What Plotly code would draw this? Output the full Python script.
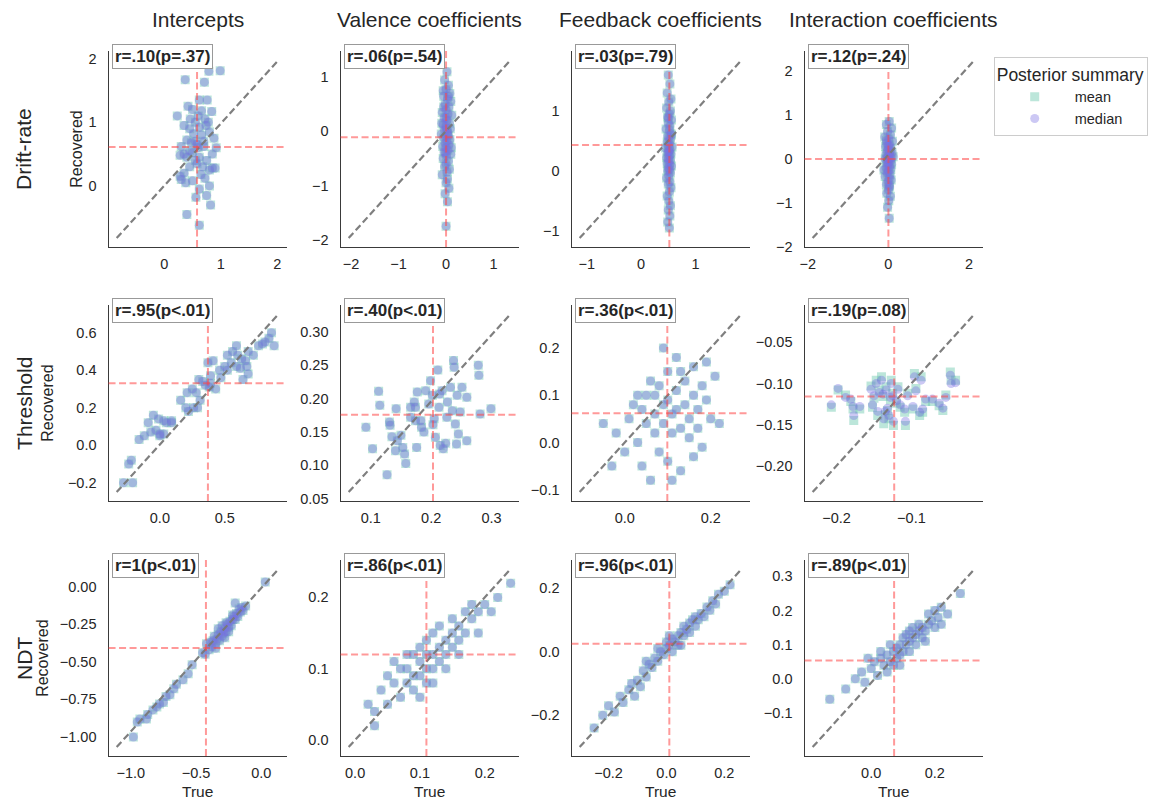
import plotly.graph_objects as go

W, H = 1156, 798      # reference picture size (layout coordinates below are in these pixels)
PAGE_H = 806          # rendered page height (the photo is taken of a slightly taller viewport)

col_titles = ["Intercepts", "Valence coefficients", "Feedback coefficients", "Interaction coefficients"]
row_titles = ["Drift-rate", "Threshold", "NDT"]

# r labels per panel (row-major)
r_labels = ["r=.10(p=.37)", "r=.06(p=.54)", "r=.03(p=.79)", "r=.12(p=.24)",
            "r=.95(p<.01)", "r=.40(p<.01)", "r=.36(p<.01)", "r=.19(p=.08)",
            "r=1(p<.01)", "r=.86(p<.01)", "r=.96(p<.01)", "r=.89(p<.01)"]

# reference diagonal line end points per panel: x (lo, hi) and y (lo, hi)
line_x = [(-0.844, 2.026), (-2.05, 1.36), (-1.13, 1.85), (-1.88, 2.14),
          (-0.333, 0.915), (0.0634, 0.3316), (-0.105, 0.272), (-0.232, -0.0155),
          (-1.108, 0.133), (-0.010, 0.240), (-0.30, 0.26), (-0.184, 0.325)]
line_y = [(-0.82, 1.98), (-1.97, 1.32), (-1.12, 1.85), (-1.80, 2.25),
          (-0.25, 0.70), (0.060, 0.327), (-0.105, 0.272), (-0.232, -0.0155),
          (-1.067, 0.117), (-0.010, 0.240), (-0.30, 0.26), (-0.20, 0.322)]

# mean of true (vertical) and recovered (horizontal) values
true_means = [0.58, 0.0, 0.52, 0.0, 0.37, 0.203, 0.099, -0.123, -0.424, 0.11, 0.01, 0.072]
rec_means = [0.61, -0.11, 0.43, 0.0, 0.33, 0.176, 0.062, -0.116, -0.409, 0.12, 0.025, 0.054]

# tick values per panel
xticks = [[0, 1, 2], [-2, -1, 0, 1], [-1, 0, 1], [-2, 0, 2],
          [0.0, 0.5], [0.1, 0.2, 0.3], [0.0, 0.2], [-0.2, -0.1],
          [-1.0, -0.5, 0.0], [0.0, 0.1, 0.2], [-0.2, 0.0, 0.2], [0.0, 0.2]]
xticktext = [["0", "1", "2"], ["−2", "−1", "0", "1"], ["−1", "0", "1"], ["−2", "0", "2"],
             ["0.0", "0.5"], ["0.1", "0.2", "0.3"], ["0.0", "0.2"], ["−0.2", "−0.1"],
             ["−1.0", "−0.5", "0.0"], ["0.0", "0.1", "0.2"], ["−0.2", "0.0", "0.2"], ["0.0", "0.2"]]
yticks = [[0, 1, 2], [-2, -1, 0, 1], [-1, 0, 1], [-2, -1, 0, 1, 2],
          [-0.2, 0.0, 0.2, 0.4, 0.6], [0.05, 0.10, 0.15, 0.20, 0.25, 0.30], [-0.1, 0.0, 0.1, 0.2],
          [-0.20, -0.15, -0.10, -0.05],
          [-1.0, -0.75, -0.5, -0.25, 0.0], [0.0, 0.1, 0.2], [-0.2, 0.0, 0.2], [-0.1, 0.0, 0.1, 0.2, 0.3]]
yticktext = [["0", "1", "2"], ["−2", "−1", "0", "1"], ["−1", "0", "1"], ["−2", "−1", "0", "1", "2"],
             ["−0.2", "0.0", "0.2", "0.4", "0.6"], ["0.05", "0.10", "0.15", "0.20", "0.25", "0.30"],
             ["−0.1", "0.0", "0.1", "0.2"], ["−0.20", "−0.15", "−0.10", "−0.05"],
             ["−1.00", "−0.75", "−0.50", "−0.25", "0.00"], ["0.0", "0.1", "0.2"], ["−0.2", "0.0", "0.2"],
             ["−0.1", "0.0", "0.1", "0.2", "0.3"]]

# (true, recovered) posterior means per panel
p11 = [(0.37,1.67),(0.79,1.80),(0.99,1.81),(0.71,1.63),(0.62,1.35),(0.76,1.35),(0.42,1.25),(0.23,1.10),
       (0.84,1.17),(0.50,1.20),(0.66,1.18),(0.72,1.05),(0.55,1.00),(0.35,0.95),(0.45,0.90),(0.62,0.92),
       (0.80,0.85),(0.88,0.75),(0.40,0.72),(0.48,0.68),(0.55,0.70),(0.30,0.62),(0.60,0.60),(0.92,0.60),
       (0.70,0.62),(0.45,0.55),(0.50,0.52),(0.35,0.50),(0.28,0.48),(0.40,0.45),(0.62,0.45),(0.75,0.40),
       (0.55,0.40),(0.68,0.30),(0.85,0.28),(0.80,0.25),(0.90,0.28),(0.45,0.30),(0.35,0.20),(0.28,0.15),
       (0.30,0.10),(0.38,0.05),(0.65,0.18),(0.72,0.12),(0.50,0.08),(0.80,0.00),(0.62,-0.05),(0.75,-0.15),
       (0.56,-0.18),(0.82,-0.30),(0.40,-0.45),(0.62,-0.62),(0.58,0.65),(0.66,0.80),(0.52,0.82),(0.78,1.00),
       (0.60,1.10),(0.70,0.70),(0.46,1.05),(0.58,0.35),(0.85,0.50),(0.74,0.95)]
p12 = [(0.02,1.10),(-0.03,0.95),(0.05,0.85),(0.00,0.78),(0.08,0.70),(-0.05,0.65),(0.03,0.60),(0.10,0.55),
       (-0.02,0.50),(0.06,0.45),(0.00,0.40),(-0.08,0.35),(0.04,0.32),(0.12,0.30),(-0.04,0.25),(0.02,0.20),
       (0.07,0.15),(-0.06,0.12),(0.00,0.10),(0.09,0.05),(-0.03,0.02),(0.03,0.00),(-0.10,-0.05),(0.05,-0.08),
       (0.00,-0.10),(-0.05,-0.12),(0.08,-0.15),(0.02,-0.18),(-0.02,-0.22),(0.06,-0.25),(-0.07,-0.28),(0.00,-0.30),
       (0.04,-0.35),(-0.04,-0.38),(0.10,-0.42),(0.01,-0.45),(-0.06,-0.50),(0.05,-0.55),(0.00,-0.60),(-0.03,-0.65),
       (0.07,-0.70),(0.02,-0.75),(-0.08,-0.80),(0.03,-0.88),(0.00,-0.95),(0.06,-1.05),(-0.02,-1.15),(0.03,-1.30),
       (0.00,-1.75),(-0.05,0.45),(0.00,0.25),(0.03,-0.05),(-0.01,-0.40),(0.05,0.65),(-0.06,0.75),(0.11,-0.30),
       (-0.09,0.15),(0.01,0.05)]
p13 = [(0.50,1.60),(0.53,1.45),(0.48,1.30),(0.55,1.20),(0.51,1.15),(0.47,1.05),(0.54,1.00),(0.52,0.95),
       (0.49,0.90),(0.56,0.85),(0.50,0.80),(0.53,0.75),(0.46,0.70),(0.52,0.68),(0.55,0.62),(0.49,0.58),
       (0.51,0.55),(0.54,0.52),(0.48,0.48),(0.52,0.45),(0.50,0.42),(0.57,0.40),(0.45,0.38),(0.53,0.35),
       (0.51,0.32),(0.49,0.30),(0.55,0.28),(0.52,0.25),(0.47,0.22),(0.50,0.20),(0.54,0.18),(0.51,0.15),
       (0.48,0.12),(0.53,0.10),(0.56,0.08),(0.50,0.05),(0.52,0.02),(0.49,0.00),(0.54,-0.03),(0.51,-0.08),
       (0.47,-0.12),(0.53,-0.18),(0.50,-0.22),(0.55,-0.28),(0.52,-0.35),(0.48,-0.42),(0.51,-0.50),(0.54,-0.58),
       (0.50,-0.65),(0.53,-0.75),(0.49,-0.85),(0.52,-0.95),(0.56,0.60),(0.50,0.88),(0.51,0.33)]
p14 = [(0.02,0.85),(-0.05,0.78),(0.08,0.70),(-0.02,0.62),(0.05,0.55),(-0.09,0.50),(0.01,0.45),(0.10,0.40),
       (-0.04,0.36),(0.03,0.32),(-0.07,0.28),(0.06,0.25),(0.00,0.22),(-0.03,0.18),(0.09,0.15),(0.02,0.12),
       (-0.06,0.10),(0.04,0.07),(-0.01,0.05),(0.07,0.02),(-0.08,0.00),(0.01,-0.02),(0.05,-0.05),(-0.04,-0.08),
       (0.00,-0.10),(0.08,-0.12),(-0.02,-0.15),(0.03,-0.18),(-0.06,-0.20),(0.06,-0.24),(0.00,-0.28),(-0.03,-0.32),
       (0.04,-0.36),(-0.08,-0.40),(0.02,-0.44),(0.07,-0.48),(-0.01,-0.52),(-0.05,-0.58),(0.03,-0.64),(0.00,-0.70),
       (-0.04,-0.78),(0.05,-0.85),(0.01,-0.95),(-0.02,-1.10),(0.02,-1.35),(0.12,0.05),(-0.11,-0.25),(0.00,0.30),
       (-0.03,0.00),(0.04,0.18),(0.02,-0.60),(-0.05,0.42)]
p21 = [(-0.28,-0.20),(-0.21,-0.20),(-0.24,-0.10),(-0.22,-0.08),(-0.16,0.03),(-0.12,0.05),(-0.09,0.12),
       (-0.05,0.16),(-0.07,0.07),(-0.03,0.08),(0.00,0.05),(0.00,0.06),(0.03,0.06),(-0.01,0.14),(0.03,0.13),
       (0.05,0.12),(0.09,0.12),(0.09,0.13),(0.16,0.24),(0.20,0.20),(0.22,0.18),(0.26,0.20),(0.29,0.20),
       (0.31,0.24),(0.21,0.28),(0.25,0.30),(0.28,0.28),(0.30,0.35),(0.33,0.34),(0.35,0.32),(0.38,0.31),
       (0.39,0.37),(0.37,0.44),(0.41,0.45),(0.39,0.33),(0.43,0.30),(0.46,0.40),(0.50,0.42),(0.52,0.48),
       (0.55,0.44),(0.52,0.40),(0.56,0.50),(0.59,0.53),(0.60,0.48),(0.63,0.46),(0.66,0.45),(0.62,0.41),
       (0.68,0.50),(0.72,0.48),(0.68,0.38),(0.76,0.53),(0.79,0.54),(0.81,0.55),(0.84,0.57),(0.86,0.60),
       (0.88,0.53),(0.59,0.42),(0.47,0.36),(0.64,0.35),(0.67,0.42)]
p22 = [(0.113,0.211),(0.092,0.157),(0.115,0.190),(0.103,0.125),(0.131,0.165),(0.132,0.160),(0.127,0.086),
       (0.135,0.143),(0.141,0.122),(0.144,0.137),(0.150,0.145),(0.153,0.127),(0.156,0.117),(0.158,0.103),
       (0.142,0.185),(0.166,0.172),(0.172,0.195),(0.174,0.187),(0.177,0.210),(0.176,0.127),(0.183,0.167),
       (0.184,0.157),(0.188,0.150),(0.191,0.212),(0.196,0.192),(0.199,0.227),(0.202,0.205),(0.205,0.170),
       (0.203,0.161),(0.207,0.142),(0.211,0.243),(0.213,0.187),(0.214,0.207),(0.218,0.212),(0.215,0.130),
       (0.220,0.125),(0.224,0.133),(0.226,0.172),(0.227,0.195),(0.232,0.217),(0.235,0.182),(0.237,0.257),
       (0.238,0.247),(0.240,0.162),(0.243,0.205),(0.242,0.132),(0.245,0.147),(0.248,0.180),(0.251,0.217),
       (0.259,0.202),(0.259,0.137),(0.278,0.250),(0.279,0.235),(0.281,0.177),(0.299,0.185),(0.174,0.167),
       (0.166,0.187)]
p23 = [(-0.05,0.04),(-0.02,0.02),(0.00,-0.02),(0.02,0.08),(0.03,0.00),(0.04,-0.05),(0.05,0.10),(0.05,0.04),
       (0.06,-0.08),(0.07,0.06),(0.07,0.02),(0.08,0.12),(0.08,-0.02),(0.09,0.08),(0.09,0.04),(0.10,0.15),
       (0.10,0.09),(0.10,-0.04),(0.11,0.06),(0.11,0.02),(0.12,0.18),(0.12,0.11),(0.12,0.07),(0.13,0.03),
       (0.13,-0.06),(0.14,0.13),(0.14,0.08),(0.15,0.05),(0.15,0.01),(0.16,0.10),(0.16,0.16),(0.17,0.07),
       (0.17,0.03),(0.18,0.12),(0.18,-0.01),(0.19,0.09),(0.20,0.05),(0.21,0.14),(0.22,0.04),(0.06,0.13),
       (0.03,0.10),(0.01,0.05),(-0.03,-0.05),(0.09,0.20),(0.13,0.15),(0.11,-0.08),(0.07,0.10),(0.04,0.07),
       (0.16,-0.03),(0.19,0.17)]
p24 = [(-0.207,-0.129),(-0.198,-0.108),(-0.188,-0.114),(-0.181,-0.122),(-0.178,-0.131),(-0.177,-0.145),
       (-0.169,-0.131),(-0.154,-0.103),(-0.152,-0.129),(-0.147,-0.096),(-0.145,-0.139),(-0.140,-0.092),
       (-0.138,-0.116),(-0.137,-0.149),(-0.134,-0.104),(-0.132,-0.133),(-0.130,-0.143),(-0.127,-0.096),
       (-0.125,-0.112),(-0.124,-0.151),(-0.120,-0.124),(-0.118,-0.104),(-0.115,-0.129),(-0.109,-0.135),
       (-0.108,-0.151),(-0.105,-0.112),(-0.098,-0.131),(-0.096,-0.088),(-0.094,-0.106),(-0.089,-0.139),
       (-0.087,-0.092),(-0.085,-0.135),(-0.081,-0.122),(-0.072,-0.122),(-0.063,-0.127),(-0.058,-0.133),
       (-0.054,-0.114),(-0.048,-0.086),(-0.047,-0.096),(-0.041,-0.096),(-0.150,-0.118),(-0.143,-0.108),
       (-0.128,-0.120),(-0.135,-0.138)]
p24_median = [(-0.207,-0.126),(-0.198,-0.106),(-0.188,-0.117),(-0.181,-0.119),(-0.178,-0.128),(-0.177,-0.139),
       (-0.169,-0.128),(-0.154,-0.107),(-0.152,-0.126),(-0.147,-0.100),(-0.145,-0.134),(-0.140,-0.096),
       (-0.138,-0.113),(-0.137,-0.143),(-0.134,-0.108),(-0.132,-0.130),(-0.130,-0.139),(-0.127,-0.100),
       (-0.125,-0.115),(-0.124,-0.146),(-0.120,-0.121),(-0.118,-0.107),(-0.115,-0.126),(-0.109,-0.131),
       (-0.108,-0.146),(-0.105,-0.115),(-0.098,-0.128),(-0.096,-0.092),(-0.094,-0.109),(-0.089,-0.135),
       (-0.087,-0.096),(-0.085,-0.131),(-0.081,-0.119),(-0.072,-0.119),(-0.063,-0.124),(-0.058,-0.130),
       (-0.054,-0.117),(-0.048,-0.090),(-0.047,-0.100),(-0.041,-0.099),(-0.150,-0.115),(-0.143,-0.111),
       (-0.128,-0.117),(-0.135,-0.134)]
p31 = [(-0.98,-1.00),(-0.95,-0.90),(-0.93,-0.88),(-0.88,-0.88),(-0.87,-0.85),(-0.83,-0.82),(-0.80,-0.80),
       (-0.78,-0.78),(-0.75,-0.77),(-0.73,-0.73),(-0.70,-0.72),(-0.67,-0.68),(-0.65,-0.65),(-0.60,-0.62),
       (-0.56,-0.58),(-0.53,-0.52),(-0.45,-0.44),(-0.43,-0.45),(-0.40,-0.42),(-0.38,-0.40),(-0.37,-0.36),
       (-0.36,-0.33),(-0.35,-0.38),(-0.34,-0.35),(-0.33,-0.32),(-0.32,-0.36),(-0.31,-0.30),(-0.30,-0.33),
       (-0.29,-0.31),(-0.28,-0.28),(-0.27,-0.30),(-0.26,-0.25),(-0.25,-0.27),(-0.24,-0.23),(-0.23,-0.26),
       (-0.22,-0.22),(-0.21,-0.20),(-0.20,-0.22),(-0.19,-0.18),(-0.18,-0.20),(-0.17,-0.15),(-0.16,-0.17),
       (-0.15,-0.14),(-0.14,-0.16),(-0.12,-0.13),(-0.20,-0.11),(-0.25,-0.30),(-0.28,-0.34),(-0.35,-0.41),
       (-0.39,-0.37),(0.03,0.03),(-0.42,-0.38),(-0.33,-0.28),(-0.30,-0.26),(-0.22,-0.19),(-0.27,-0.24)]
p32 = [(0.02,0.05),(0.03,0.04),(0.04,0.07),(0.05,0.05),(0.05,0.09),(0.06,0.08),(0.07,0.06),(0.07,0.10),
       (0.08,0.08),(0.08,0.12),(0.09,0.09),(0.09,0.07),(0.10,0.11),(0.10,0.13),(0.10,0.09),(0.11,0.12),
       (0.11,0.10),(0.11,0.14),(0.12,0.12),(0.12,0.15),(0.12,0.10),(0.13,0.13),(0.13,0.11),(0.13,0.16),
       (0.14,0.14),(0.14,0.12),(0.15,0.15),(0.15,0.13),(0.15,0.17),(0.16,0.16),(0.16,0.14),(0.17,0.15),
       (0.17,0.18),(0.18,0.17),(0.18,0.19),(0.19,0.18),(0.20,0.19),(0.21,0.18),(0.22,0.20),(0.24,0.22),
       (0.06,0.11),(0.09,0.12),(0.12,0.08),(0.14,0.10),(0.10,0.06),(0.03,0.02),(0.16,0.12),(0.19,0.15),
       (0.08,0.10),(0.11,0.08)]
p33 = [(-0.25,-0.24),(-0.22,-0.20),(-0.20,-0.17),(-0.18,-0.19),(-0.16,-0.14),(-0.15,-0.16),(-0.13,-0.12),
       (-0.12,-0.10),(-0.10,-0.09),(-0.09,-0.11),(-0.08,-0.06),(-0.07,-0.08),(-0.06,-0.04),(-0.05,-0.05),
       (-0.04,-0.02),(-0.03,-0.03),(-0.02,0.00),(-0.01,-0.01),(0.00,0.01),(0.00,0.03),(0.01,0.02),(0.02,0.00),
       (0.02,0.04),(0.03,0.03),(0.04,0.05),(0.04,0.02),(0.05,0.06),(0.06,0.05),(0.06,0.08),(0.07,0.07),
       (0.08,0.09),(0.08,0.06),(0.09,0.10),(0.10,0.08),(0.10,0.11),(0.11,0.10),(0.12,0.12),(0.13,0.11),
       (0.14,0.14),(0.15,0.13),(0.16,0.16),(0.17,0.15),(0.18,0.18),(0.20,0.19),(0.22,0.21),(-0.11,-0.14),
       (-0.03,0.01),(0.05,0.02),(0.01,0.05),(-0.07,-0.03)]
p34 = [(-0.13,-0.06),(-0.08,-0.03),(-0.05,0.00),(-0.03,0.02),(-0.02,-0.01),(0.00,0.03),(0.01,0.05),(0.02,0.01),
       (0.03,0.06),(0.04,0.04),(0.05,0.07),(0.05,0.02),(0.06,0.05),(0.07,0.08),(0.07,0.04),(0.08,0.09),
       (0.08,0.06),(0.09,0.10),(0.09,0.07),(0.10,0.08),(0.10,0.12),(0.11,0.10),(0.11,0.13),(0.12,0.11),
       (0.12,0.14),(0.13,0.12),(0.13,0.15),(0.14,0.13),(0.14,0.10),(0.15,0.14),(0.15,0.16),(0.16,0.15),
       (0.16,0.12),(0.17,0.14),(0.18,0.16),(0.18,0.19),(0.19,0.17),(0.20,0.20),(0.20,0.15),(0.21,0.18),
       (0.22,0.21),(0.22,0.16),(0.24,0.19),(0.28,0.25),(0.06,0.10),(0.03,0.08),(0.12,0.08),(-0.01,0.06),
       (0.17,0.11),(0.09,0.04)]

means = [p11, p12, p13, p14, p21, p22, p23, p24, p31, p32, p33, p34]
medians = [p11, p12, p13, p14, p21, p22, p23, p24_median, p31, p32, p33, p34]

# ---- layout geometry (reference pixels) ----
col_px = [(104, 283), (337, 516), (569, 748), (803, 982)]
row_px = [(51, 247), (305, 501), (560, 756)]
ylabel_x = [72, 42, 37]
row_title_x = 19

MEAN_COLOR = "rgba(95,196,166,0.42)"
MED_COLOR = "rgba(120,110,225,0.38)"
TXT = "#262626"
FONT = "Liberation Sans, Arial, sans-serif"
DASH = "7px,3.5px"

fig = go.Figure()
shapes = []
annotations = []


def padded(lo, hi):
    m = 0.05 * (hi - lo)
    return [lo - m, hi + m]


def py(y):
    """reference pixel row -> paper fraction"""
    return 1 - y / H


for r in range(3):
    for c in range(4):
        i = r * 4 + c
        n = i + 1
        xa = "x" if n == 1 else f"x{n}"
        ya = "y" if n == 1 else f"y{n}"
        l, rr = col_px[c]
        t, b = row_px[r]
        fig.layout[("xaxis" if n == 1 else f"xaxis{n}")] = dict(
            domain=[l / W, rr / W], anchor=ya, range=padded(*line_x[i]), showgrid=False, zeroline=False,
            showline=True, linecolor="#3a3a3a", linewidth=1.3, ticks="", tickvals=xticks[i],
            ticktext=xticktext[i], tickfont=dict(size=14.5, color=TXT, family=FONT), ticklabelstandoff=3)
        fig.layout[("yaxis" if n == 1 else f"yaxis{n}")] = dict(
            domain=[py(b), py(t)], anchor=xa, range=padded(*line_y[i]), showgrid=False, zeroline=False,
            showline=True, linecolor="#3a3a3a", linewidth=1.3, ticks="", tickvals=yticks[i],
            ticktext=yticktext[i], tickfont=dict(size=14.5, color=TXT, family=FONT), ticklabelstandoff=8)

        mx = [p[0] for p in means[i]]
        my = [p[1] for p in means[i]]
        dx = [p[0] for p in medians[i]]
        dy = [p[1] for p in medians[i]]
        fig.add_trace(go.Scatter(x=mx, y=my, mode="markers", xaxis=xa, yaxis=ya, name="mean",
                                 legendgroup="mean", showlegend=(i == 0),
                                 marker=dict(symbol="square", size=9, color=MEAN_COLOR, line=dict(width=0))))
        fig.add_trace(go.Scatter(x=dx, y=dy, mode="markers", xaxis=xa, yaxis=ya, name="median",
                                 legendgroup="median", showlegend=(i == 0),
                                 marker=dict(symbol="circle", size=9, color=MED_COLOR, line=dict(width=0))))
        fig.add_trace(go.Scatter(x=list(line_x[i]), y=list(line_y[i]), mode="lines", xaxis=xa, yaxis=ya,
                                 showlegend=False, hoverinfo="skip",
                                 line=dict(color="rgba(120,120,120,0.95)", width=2.2, dash=DASH)))
        shapes.append(dict(type="line", xref=xa, yref=f"{ya} domain", x0=true_means[i], x1=true_means[i],
                           y0=0, y1=1, line=dict(color="rgba(255,70,70,0.55)", width=2, dash=DASH)))
        shapes.append(dict(type="line", xref=f"{xa} domain", yref=ya, x0=0, x1=1, y0=rec_means[i],
                           y1=rec_means[i], line=dict(color="rgba(255,70,70,0.55)", width=2, dash=DASH)))
        annotations.append(dict(text="<b>" + r_labels[i] + "</b>", xref="paper", yref="paper",
                                x=(l + 3) / W, y=py(t - 7), xanchor="left", yanchor="top",
                                showarrow=False, font=dict(size=17, color=TXT, family=FONT),
                                bgcolor="white", bordercolor="#999999", borderwidth=1, borderpad=2))

for c in range(4):
    l, rr = col_px[c]
    cx = (l + rr) / 2 / W
    annotations.append(dict(text=col_titles[c], xref="paper", yref="paper", x=cx, y=py(19),
                            xanchor="center", yanchor="middle", showarrow=False,
                            font=dict(size=21, color=TXT, family=FONT)))
    annotations.append(dict(text="True", xref="paper", yref="paper", x=cx, y=py(802),
                            xanchor="center", yanchor="bottom", showarrow=False,
                            font=dict(size=15.5, color=TXT, family=FONT)))

for r in range(3):
    t, b = row_px[r]
    cy = py((t + b) / 2)
    annotations.append(dict(text=row_titles[r], xref="paper", yref="paper", x=row_title_x / W, y=cy,
                            xanchor="center", yanchor="middle", textangle=-90, showarrow=False,
                            font=dict(size=21, color=TXT, family=FONT)))
    annotations.append(dict(text="Recovered", xref="paper", yref="paper", x=ylabel_x[r] / W, y=cy,
                            xanchor="center", yanchor="middle", textangle=-90, showarrow=False,
                            font=dict(size=16, color=TXT, family=FONT)))

fig.update_layout(
    width=W, height=PAGE_H, margin=dict(l=0, r=0, t=0, b=0),
    paper_bgcolor="white", plot_bgcolor="white",
    shapes=shapes, annotations=annotations,
    legend=dict(title=dict(text="Posterior summary", font=dict(size=17.5, color=TXT, family=FONT)),
                x=993 / W, y=py(57), xanchor="left", yanchor="top",
                bordercolor="#cccccc", borderwidth=1, bgcolor="white", tracegroupgap=0,
                font=dict(size=14.5, color=TXT, family=FONT), itemwidth=70),
    showlegend=True,
)

fig.write_html("out.html", config={"displayModeBar": False},
               post_script=("document.body.style.margin='0px';document.body.style.padding='0px';"
                            "document.body.style.overflow='hidden';"
                            "document.documentElement.style.overflow='hidden';"))
